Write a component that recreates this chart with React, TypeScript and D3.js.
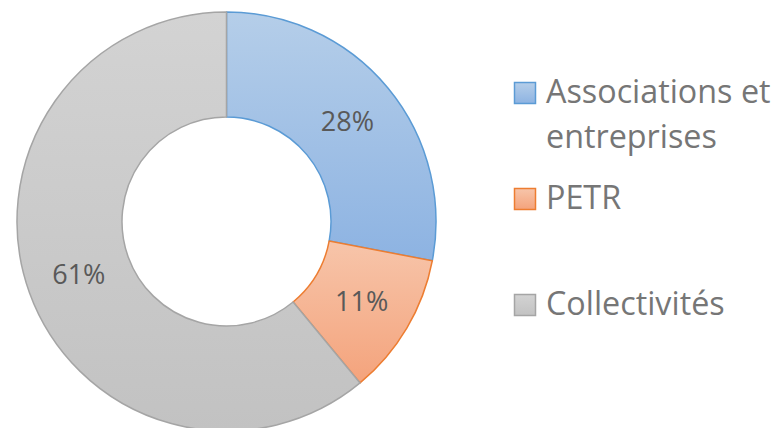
import React from "react";
import * as d3 from "d3";

const categories = ["Associations et entreprises", "PETR", "Collectivités"];
const legendLines = [["Associations et", "entreprises"], ["PETR"], ["Collectivités"]];
const values = [28, 11, 61];
const gradTop = ["#b5cee9", "#f7c5aa", "#d3d3d3"];
const gradBottom = ["#8db3e2", "#f4a37c", "#c2c2c2"];
const strokes = ["#5b9bd5", "#ed7d31", "#a5a5a5"];

const W = 780, H = 428;
const cx = 226.5, cy = 221.5, R = 209.5, r = 104.5;
const legendY = [82, 188, 294];
const font = "'Open Sans', Lato, sans-serif";

export default function App() {
  const pie = d3.pie<number>().sort(null).value((d) => d);
  const arcs = pie(values);
  const arc = d3.arc<d3.PieArcDatum<number>>().innerRadius(r).outerRadius(R);
  const total = d3.sum(values);
  return (
    <svg width={W} height={H} style={{ position: "absolute", left: 0, top: 0 }}>
      <defs>
        {categories.map((c, i) => (
          <linearGradient key={c} id={`g${i}`} x1="0" y1="0" x2="0" y2="1">
            <stop offset="0" stopColor={gradTop[i]} />
            <stop offset="1" stopColor={gradBottom[i]} />
          </linearGradient>
        ))}
      </defs>
      <g transform={`translate(${cx},${cy})`}>
        {arcs.map((a, i) => (
          <path key={i} d={arc(a) || ""} fill={`url(#g${i})`} stroke={strokes[i]} strokeWidth={1.5} strokeLinejoin="round" />
        ))}
        {arcs.map((a, i) => {
          const [x, y] = arc.centroid(a);
          return (
            <text key={i} x={x} y={y} dy="0.36em" textAnchor="middle" fontFamily={font} fontSize={27} fill="#595959">
              {Math.round((values[i] / total) * 100)}%
            </text>
          );
        })}
      </g>
      {categories.map((c, i) => (
        <g key={c} transform={`translate(514,${legendY[i]})`}>
          <rect x={0.5} y={0.5} width={21} height={21} fill={`url(#g${i})`} stroke={strokes[i]} strokeWidth={1.5} />
          {legendLines[i].map((t, j) => (
            <text key={j} x={32} y={21 + j * 45} fontFamily={font} fontSize={32.3} fill="#767676">
              {t}
            </text>
          ))}
        </g>
      ))}
    </svg>
  );
}
